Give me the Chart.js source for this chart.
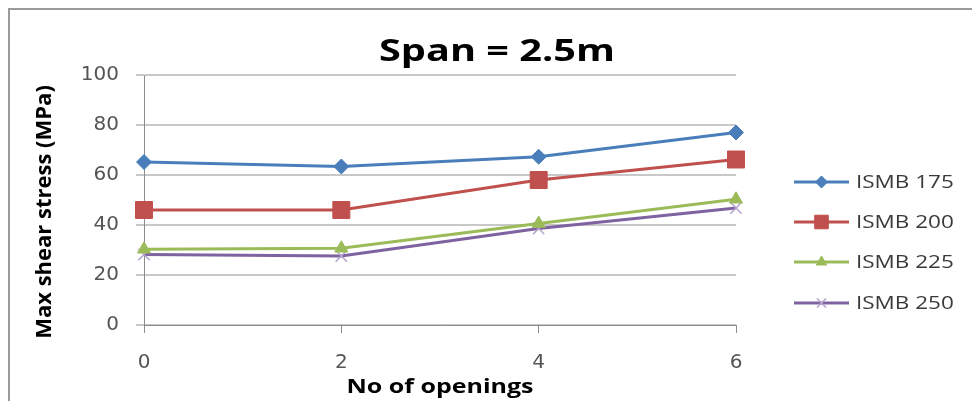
<!DOCTYPE html>
<html>
<head>
<meta charset="utf-8">
<script src="https://cdn.jsdelivr.net/npm/chart.js@4.4.1/dist/chart.umd.min.js"></script>
<style>
  html, body { margin: 0; padding: 0; background: #ffffff; }
  #wrap { width: 972px; height: 401px; }
</style>
</head>
<body>
<div id="wrap"><canvas id="chart" width="972" height="401"></canvas></div>
<script>
// Number of web openings on the x axis
const openings = ['0', '2', '4', '6'];

// Maximum shear stress (MPa) for each beam section
const ismb175 = [65.2, 63.4, 67.3, 77.0];
const ismb200 = [46.0, 46.0, 58.0, 66.2];
const ismb225 = [30.3, 30.7, 40.6, 50.3];
const ismb250 = [28.2, 27.6, 38.6, 46.8];

const seriesNames = ['ISMB 175', 'ISMB 200', 'ISMB 225', 'ISMB 250'];
const yTickValues = [0, 20, 40, 60, 80, 100];

const chartTitle = 'Span = 2.5m';
const xAxisTitle = 'No of openings';
const yAxisTitle = 'Max shear stress (MPa)';

const TEXT_FONT = '"Open Sans", "Liberation Sans", sans-serif';
const TEXT_STRETCH = 1.25;

const styles = [
  { color: '#4a7ebb', point: 'rectRot', radius: 7.5 },
  { color: '#c0504d', point: 'rect', radius: 12 },
  { color: '#9bbb59', point: 'triangle', radius: 7.5 },
  { color: '#7f63a1', point: 'crossRot', radius: 8 }
];

const seriesValues = [ismb175, ismb200, ismb225, ismb250];

const datasets = seriesValues.map((vals, i) => ({
  label: seriesNames[i],
  data: vals,
  borderColor: styles[i].color,
  backgroundColor: styles[i].color,
  borderWidth: 3.2,
  pointStyle: styles[i].point,
  pointRadius: styles[i].radius,
  pointBorderWidth: styles[i].point === 'crossRot' ? 1.5 : 1,
  pointBorderColor: styles[i].point === 'crossRot' ? '#b3a2cc' : styles[i].color,
  pointBackgroundColor: styles[i].color,
  tension: 0
}));

// Draws text, optionally widened horizontally around its anchor point
function drawText(ctx, text, x, y, font, color, align, angle, stretch) {
  ctx.save();
  ctx.translate(x, y);
  if (angle) ctx.rotate(angle);
  ctx.scale(stretch || 1, 1);
  ctx.font = font;
  ctx.fillStyle = color;
  ctx.textAlign = align || 'center';
  ctx.textBaseline = 'middle';
  ctx.fillText(text, 0, 0);
  ctx.restore();
}

const decorations = {
  id: 'decorations',
  beforeDraw(chart) {
    const ctx = chart.ctx;
    ctx.save();
    ctx.fillStyle = '#ffffff';
    ctx.fillRect(0, 0, chart.width, chart.height);
    ctx.strokeStyle = '#9a9a9a';
    ctx.lineWidth = 2;
    ctx.strokeRect(9, 9, chart.width + 20, chart.height + 20);
    ctx.restore();
  },
  afterDraw(chart) {
    const ctx = chart.ctx;
    const area = chart.chartArea;

    // chart title
    drawText(ctx, chartTitle, 497, 52, 'bold 31px ' + TEXT_FONT, '#000000', 'center', 0, 1.28);

    // axis titles
    drawText(ctx, xAxisTitle, (area.left + area.right) / 2, 387, 'bold 20px ' + TEXT_FONT, '#000000', 'center', 0, TEXT_STRETCH);
    drawText(ctx, yAxisTitle, 45, 212, 'bold 22px ' + TEXT_FONT, '#000000', 'center', -Math.PI / 2, 1);

    // legend: line sample with marker, then the series name
    const lx0 = 794, lx1 = 849, tx = 856;
    const rowY = [182, 222, 262, 303];
    chart.data.datasets.forEach((ds, i) => {
      const y = rowY[i];
      ctx.save();
      ctx.strokeStyle = ds.borderColor;
      ctx.lineWidth = 3;
      ctx.beginPath();
      ctx.moveTo(lx0, y);
      ctx.lineTo(lx1, y);
      ctx.stroke();
      ctx.fillStyle = ds.pointBackgroundColor;
      ctx.strokeStyle = ds.pointBorderColor;
      ctx.lineWidth = ds.pointBorderWidth;
      Chart.helpers.drawPoint(ctx, {
        pointStyle: ds.pointStyle,
        radius: ds.pointRadius * 0.8,
        rotation: 0,
        borderWidth: ds.pointBorderWidth
      }, (lx0 + lx1) / 2, y);
      ctx.restore();
      drawText(ctx, ds.label, tx, y + 1, '18px ' + TEXT_FONT, '#3a3a3a', 'left', 0, TEXT_STRETCH);
    });
  }
};

new Chart(document.getElementById('chart'), {
  type: 'line',
  data: { labels: openings, datasets },
  options: {
    responsive: false,
    animation: false,
    devicePixelRatio: 1,
    layout: { padding: { left: 0, top: 75, right: 236, bottom: 0 } },
    plugins: {
      legend: { display: false },
      title: { display: false },
      tooltip: { enabled: false }
    },
    scales: {
      x: {
        type: 'category',
        offset: false,
        grid: {
          drawOnChartArea: false,
          drawTicks: true,
          tickLength: 8,
          color: '#8c8c8c',
          lineWidth: 1
        },
        border: { color: '#8c8c8c', width: 1 },
        ticks: {
          padding: 18,
          color: '#555555',
          font: { family: '"DejaVu Sans", sans-serif', size: 20 }
        },
        afterFit(scale) { scale.height = 76; }
      },
      y: {
        min: 0,
        max: 100,
        afterBuildTicks(scale) { scale.ticks = yTickValues.map(v => ({ value: v })); },
        grid: {
          color: '#c8c8c8',
          lineWidth: 2,
          drawTicks: true,
          tickLength: 8,
          tickColor: '#c8c8c8'
        },
        border: { color: '#8c8c8c', width: 1 },
        ticks: {
          padding: 17,
          color: '#555555',
          font: { family: '"DejaVu Sans", sans-serif', size: 20 }
        },
        afterFit(scale) { scale.width = 144; }
      }
    }
  },
  plugins: [decorations]
});
</script>
</body>
</html>
